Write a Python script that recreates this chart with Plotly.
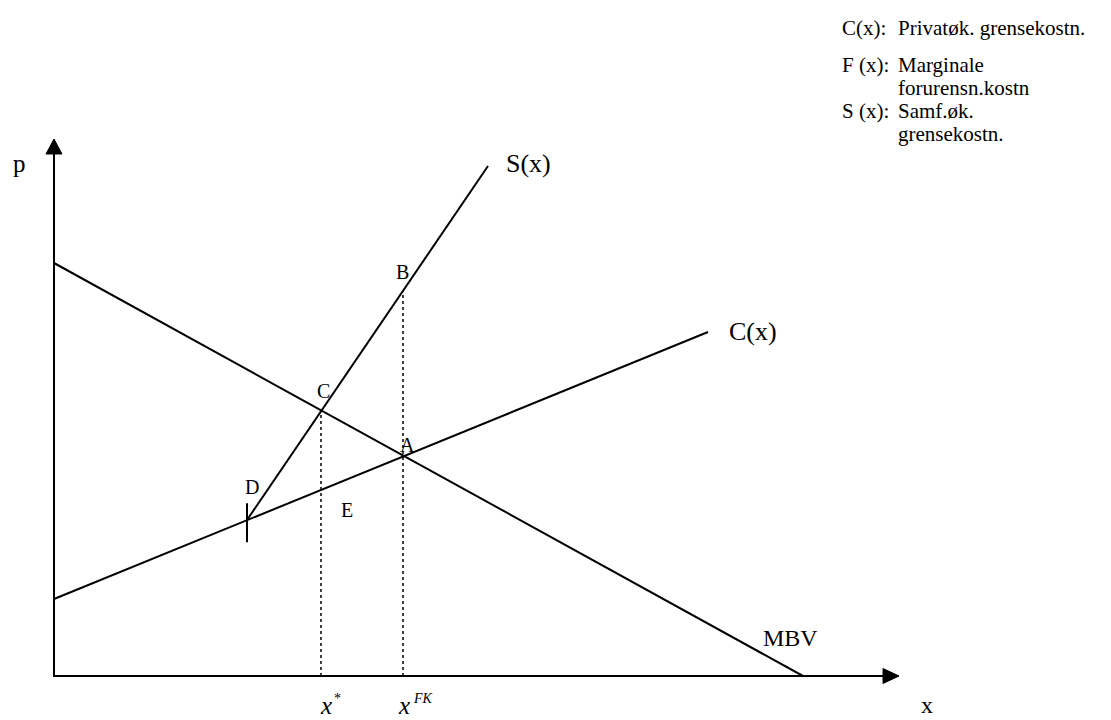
import plotly.graph_objects as go

# curve end points (x, p), units of the diagram
mbv_x = [0, 74.9]
mbv_y = [41.3, 0]
c_x = [0, 65.4]
c_y = [7.7, 34.4]
s_x = [19.3, 43.4]
s_y = [15.6, 51.0]

x_star = 26.7
x_fk = 34.9
d_x = 19.3

axis_x_end = 84.5
axis_y_end = 53.7

legend_keys = ["C(x):", "F (x):", "", "S (x):", ""]
legend_texts = ["Privatøk. grensekostn.", "Marginale", "forurensn.kostn", "Samf.øk.", "grensekostn."]
legend_y = [64.8, 61.1, 58.8, 56.5, 54.2]

point_labels = ["B", "C", "A", "D", "E"]
point_x = [34.8, 26.9, 35.3, 19.8, 29.3]
point_y = [40.4, 28.5, 23.1, 18.9, 16.6]

FONT = "Liberation Serif, Times New Roman, serif"


def line_at(xs, ys, x):
    return ys[0] + (ys[1] - ys[0]) * (x - xs[0]) / (xs[1] - xs[0])


def font(size):
    return dict(family=FONT, size=size, color="black")


fig = go.Figure()

solid = dict(color="black", width=2)
for xs, ys in [(mbv_x, mbv_y), (c_x, c_y), (s_x, s_y)]:
    fig.add_trace(go.Scatter(x=xs, y=ys, mode="lines", line=solid))

# axes with arrow heads
fig.add_trace(go.Scatter(x=[0, 0, axis_x_end - 1.2], y=[axis_y_end - 1.2, 0, 0], mode="lines", line=solid))
fig.add_trace(go.Scatter(x=[-0.8, 0, 0.8, -0.8], y=[axis_y_end - 1.5, axis_y_end, axis_y_end - 1.5, axis_y_end - 1.5],
                         mode="lines", fill="toself", fillcolor="black", line=dict(color="black", width=1)))
fig.add_trace(go.Scatter(x=[axis_x_end - 1.6, axis_x_end, axis_x_end - 1.6, axis_x_end - 1.6], y=[-0.75, 0, 0.75, -0.75],
                         mode="lines", fill="toself", fillcolor="black", line=dict(color="black", width=1)))

# dotted guides down to the x axis
dotted = dict(color="black", width=1.5, dash="dot")
fig.add_trace(go.Scatter(x=[x_star, x_star], y=[0, line_at(mbv_x, mbv_y, x_star)], mode="lines", line=dotted))
fig.add_trace(go.Scatter(x=[x_fk, x_fk], y=[0, line_at(s_x, s_y, x_fk)], mode="lines", line=dotted))

# small tick at D
d_y = line_at(c_x, c_y, d_x)
fig.add_trace(go.Scatter(x=[d_x, d_x], y=[d_y - 2.2, d_y + 1.7], mode="lines", line=solid))

ann = []
for lab, px, py in zip(point_labels, point_x, point_y):
    ann.append(dict(x=px, y=py, text=lab, font=font(20)))
ann += [
    dict(x=-3.5, y=51.3, text="p", font=font(25)),
    dict(x=45.0, y=51.3, text="S(x)", xanchor="left", font=font(26)),
    dict(x=67.3, y=34.5, text="C(x)", xanchor="left", font=font(26)),
    dict(x=73.6, y=3.8, text="MBV", font=font(24)),
    dict(x=87.3, y=-2.9, text="x", font=font(24)),
    dict(x=27.2, y=-2.9, text="<i>x</i>", font=font(25)),
    dict(x=28.3, y=-2.2, text="*", font=font(14)),
    dict(x=35.0, y=-2.9, text="<i>x</i>", font=font(25)),
    dict(x=36.9, y=-2.2, text="<i>FK</i>", font=font(14)),
]

for key, val, ly in zip(legend_keys, legend_texts, legend_y):
    if key:
        ann.append(dict(x=78.7, y=ly, text=key, xanchor="left", font=font(21), borderpad=0))
    ann.append(dict(x=84.3, y=ly, text=val, xanchor="left", font=font(21), borderpad=0))

for a in ann:
    a["showarrow"] = False

fig.update_layout(
    width=1111,
    height=720,
    margin=dict(l=0, r=0, t=0, b=0),
    showlegend=False,
    plot_bgcolor="white",
    paper_bgcolor="white",
    xaxis=dict(range=[-5.4, 105.7], visible=False),
    yaxis=dict(range=[-4.4, 67.6], visible=False),
    annotations=ann,
)

fig.write_html("out.html", config={"displayModeBar": False},
               post_script="document.body.style.margin='0';document.body.style.overflow='hidden';")
